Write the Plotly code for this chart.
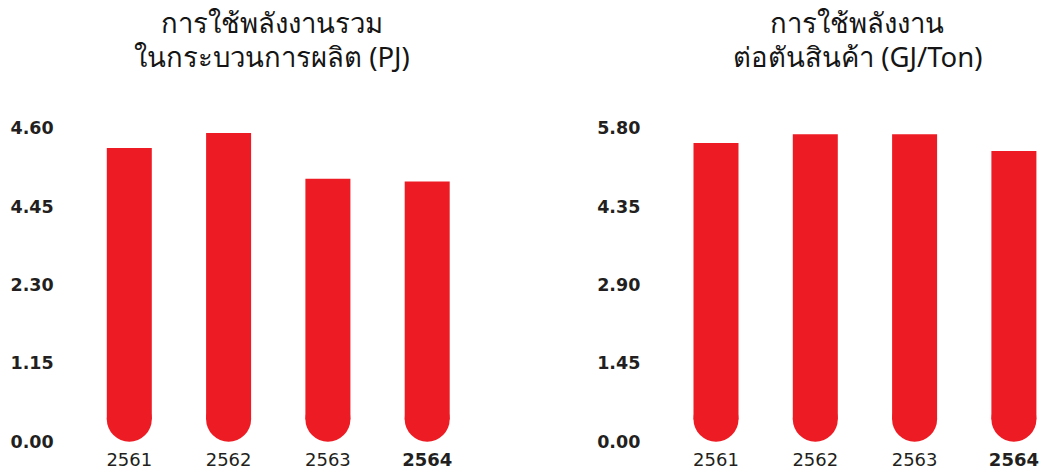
import plotly.graph_objects as go

years = ["2561", "2562", "2563", "2564"]
year_labels = ["2561", "2562", "2563", "<b>2564</b>"]

total_energy_pj = [4.31, 4.53, 3.86, 3.82]
energy_per_ton = [5.53, 5.69, 5.69, 5.38]

left_tickvals = [0.0, 1.15, 2.30, 3.45, 4.60]
left_ticktext = ["0.00", "1.15", "2.30", "4.45", "4.60"]
right_tickvals = [0.0, 1.45, 2.90, 4.35, 5.80]
right_ticktext = ["0.00", "1.45", "2.90", "4.35", "5.80"]

title_left = ["การใช้พลังงานรวม", "ในกระบวนการผลิต (PJ)"]
title_right = ["การใช้พลังงาน", "ต่อตันสินค้า (GJ/Ton)"]

RED = "#ED1C24"
TXT = "#231F20"
W, H = 1043, 474

# layout geometry (pixels)
PLOT_BOTTOM, PLOT_TOP = 441.7, 128.3
PLOT_H = PLOT_BOTTOM - PLOT_TOP
SLOT = 99.3
BAR_W_PX = 45.0
BAR_W = BAR_W_PX / SLOT
L_RANGE = [0, 4.6]
R_RANGE = [0, 5.8]
# rounded-cap radius expressed in each axis' data units
r_left = (BAR_W_PX / 2) * (L_RANGE[1] - L_RANGE[0]) / PLOT_H
r_right = (BAR_W_PX / 2) * (R_RANGE[1] - R_RANGE[0]) / PLOT_H

fig = go.Figure()


def add_rounded_bars(values, r, xa, ya):
    fig.add_trace(go.Bar(x=years, y=[v - r for v in values], base=[r] * len(values),
                         marker=dict(color=RED, line=dict(width=0)), width=BAR_W,
                         xaxis=xa, yaxis=ya, showlegend=False, hoverinfo="skip"))
    fig.add_trace(go.Scatter(x=years, y=[r] * len(values), mode="markers",
                             marker=dict(color=RED, size=BAR_W_PX, symbol="circle", line=dict(width=0)),
                             xaxis=xa, yaxis=ya, showlegend=False, hoverinfo="skip", cliponaxis=False))


add_rounded_bars(total_energy_pj, r_left, "x", "y")
add_rounded_bars(energy_per_ton, r_right, "x2", "y2")

y_dom = [(H - PLOT_BOTTOM) / H, (H - PLOT_TOP) / H]
xl = [(129.3 - SLOT / 2) / W, (129.3 + 3.5 * SLOT) / W]
xr = [(716.0 - SLOT / 2) / W, 1.0]
r_xmax = (W - 716.0) / SLOT

axis_font = dict(family="DejaVu Sans, sans-serif", size=18, color=TXT)
ytick_font = dict(family="DejaVu Sans, sans-serif", size=17.5, color=TXT, weight="bold")
title_font = dict(family="Noto Sans, sans-serif", size=27.5, color="#151515")

annotations = []
for cx, lines in ((272, title_left), (857, title_right)):
    for line_y, txt in zip((23, 56), lines):
        annotations.append(dict(text=txt, x=cx / W, y=1 - line_y / H, xref="paper", yref="paper",
                                xanchor="center", yanchor="middle", showarrow=False, font=title_font))

fig.update_layout(
    width=W, height=H, autosize=False,
    margin=dict(l=0, r=0, t=0, b=0, pad=0),
    paper_bgcolor="white", plot_bgcolor="white",
    xaxis=dict(domain=xl, range=[-0.5, 3.5], tickmode="array", tickvals=years, ticktext=year_labels,
               showgrid=False, zeroline=False, showline=False, ticks="", tickfont=axis_font,
               ticklabelstandoff=5, fixedrange=True, automargin=False),
    xaxis2=dict(domain=xr, range=[-0.5, r_xmax], tickmode="array", tickvals=years, ticktext=year_labels,
                showgrid=False, zeroline=False, showline=False, ticks="", tickfont=axis_font,
                ticklabelstandoff=5, anchor="y2", fixedrange=True, automargin=False),
    yaxis=dict(domain=y_dom, range=L_RANGE, tickmode="array", tickvals=left_tickvals,
               ticktext=left_ticktext, showgrid=False, zeroline=False, showline=False, ticks="",
               tickfont=ytick_font, ticklabelstandoff=25, fixedrange=True, automargin=False),
    yaxis2=dict(domain=y_dom, range=R_RANGE, tickmode="array", tickvals=right_tickvals,
                ticktext=right_ticktext, showgrid=False, zeroline=False, showline=False, ticks="",
                tickfont=ytick_font, ticklabelstandoff=25, anchor="x2", fixedrange=True, automargin=False),
    annotations=annotations,
)

fig.write_html("out.html", config={"displayModeBar": False},
               post_script="document.body.style.margin='0';document.body.style.overflow='hidden';")
